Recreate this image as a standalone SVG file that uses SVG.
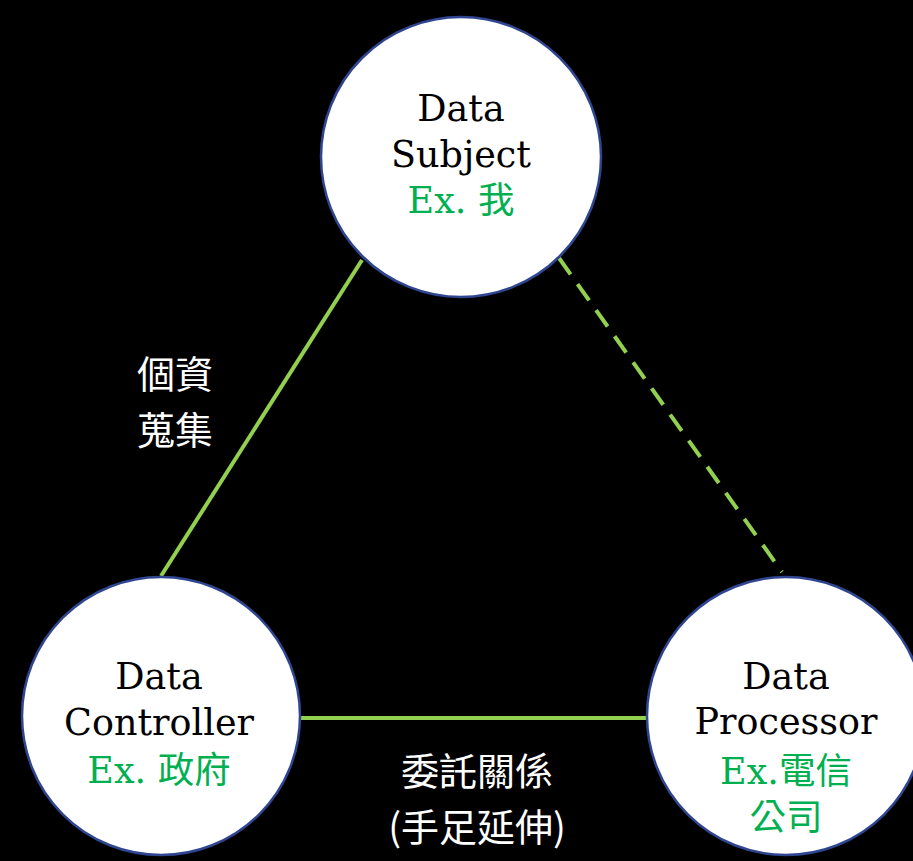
<svg xmlns="http://www.w3.org/2000/svg" width="913" height="861" viewBox="0 0 913 861">
<style>
.node{fill:#fff;stroke:#2F4590;stroke-width:2.5}
.t{font-family:"DejaVu Serif","Noto Sans CJK TC",serif;font-size:36.5px;fill:#000;text-anchor:middle}
.g{fill:#00B050}
.lbl{font-family:"Noto Sans CJK TC",sans-serif;font-size:38px;fill:#fff;text-anchor:middle}
.c{stroke:#92D050;stroke-width:4;fill:none}
</style>
<rect width="913" height="861" fill="#000"/>
<g id="connectors">
<line class="c" x1="362" y1="260" x2="161" y2="576"/>
<line class="c" x1="559" y1="258" x2="782" y2="572" stroke-dasharray="20 12"/>
<line class="c" x1="300" y1="718" x2="648" y2="718"/>
</g>
<g id="label-collect">
<text class="lbl" x="175" y="388">個資</text>
<text class="lbl" x="175" y="443.5">蒐集</text>
</g>
<g id="label-entrust">
<text class="lbl" x="477" y="785">委託關係</text>
<text class="lbl" x="477" y="840.5">(手足延伸)</text>
</g>
<g id="data-subject">
<circle class="node" cx="461" cy="157" r="140"/>
<text class="t" x="461" y="121">Data</text>
<text class="t" x="461" y="167">Subject</text>
<text class="t g" x="461" y="213">Ex. 我</text>
</g>
<g id="data-controller">
<circle class="node" cx="161" cy="716" r="139"/>
<text class="t" x="159" y="689">Data</text>
<text class="t" x="159" y="735">Controller</text>
<text class="t g" x="159" y="783">Ex. 政府</text>
</g>
<g id="data-processor">
<circle class="node" cx="786" cy="716" r="139"/>
<text class="t" x="786" y="689">Data</text>
<text class="t" x="786" y="734">Processor</text>
<text class="t g" x="786" y="784">Ex.電信</text>
<text class="t g" x="786" y="830">公司</text>
</g>
</svg>
